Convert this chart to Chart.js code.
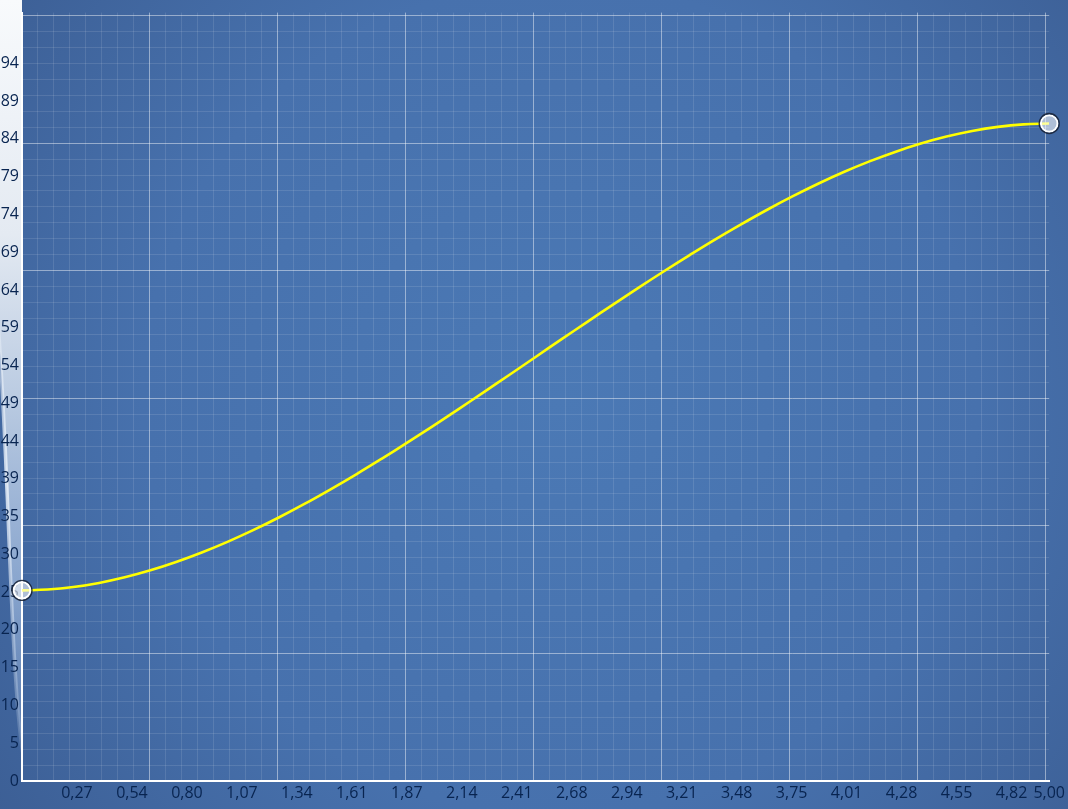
<!DOCTYPE html>
<html>
<head>
<meta charset="utf-8">
<script src="https://cdn.jsdelivr.net/npm/chart.js@4/dist/chart.umd.min.js"></script>
<style>
  html, body { margin: 0; padding: 0; background: #3f659f; }
  #wrap { width: 1068px; height: 809px; }
</style>
</head>
<body>
<div id="wrap"><canvas id="c" width="1068" height="809"></canvas></div>
<script>
// ---- data ----
const xValues = [0, 0.125, 0.25, 0.375, 0.5, 0.625, 0.75, 0.875, 1.0, 1.125, 1.25, 1.375,
                 1.5, 1.625, 1.75, 1.875, 2.0, 2.125, 2.25, 2.375, 2.5, 2.625, 2.75, 2.875,
                 3.0, 3.125, 3.25, 3.375, 3.5, 3.625, 3.75, 3.875, 4.0, 4.125, 4.25, 4.375,
                 4.5, 4.625, 4.75, 4.875, 5.0];
const yValues = [24.90, 25.01, 25.34, 25.88, 26.61, 27.52, 28.61, 29.85, 31.24, 32.77, 34.43, 36.20,
                 38.08, 40.04, 42.09, 44.20, 46.37, 48.59, 50.84, 53.11, 55.40, 57.69, 59.96, 62.21,
                 64.43, 66.60, 68.71, 70.76, 72.72, 74.60, 76.37, 78.03, 79.56, 80.95, 82.19, 83.28,
                 84.19, 84.92, 85.46, 85.79, 85.90];

const xTickValues = [0.2676, 0.5352, 0.8028, 1.0704, 1.338, 1.6056, 1.8732, 2.1408,
                     2.4084, 2.676, 2.9436, 3.2112, 3.4788, 3.7464, 4.014, 4.2816,
                     4.5492, 4.8168, 5.0];
const xTickLabels = ['0,27', '0,54', '0,80', '1,07', '1,34', '1,61', '1,87', '2,14',
                     '2,41', '2,68', '2,94', '3,21', '3,48', '3,75', '4,01', '4,28',
                     '4,55', '4,82', '5,00'];
const yTickValues = [0, 4.935, 9.87, 14.805, 19.74, 24.675, 29.61, 34.545, 39.48, 44.415,
                     49.35, 54.285, 59.22, 64.155, 69.09, 74.025, 78.96, 83.895, 88.83, 93.765];
const yTickLabels = ['0', '5', '10', '15', '20', '25', '30', '35', '39', '44',
                     '49', '54', '59', '64', '69', '74', '79', '84', '89', '94'];

// decorative grid lattice (minor cells, major every 8)
const gridXCount = 64, gridXMax = 64.25;
const gridYCount = 48, gridYMax = 48.1875;

const linePoints = xValues.map((x, i) => ({ x: x, y: yValues[i] }));
const endPoints = [linePoints[0], linePoints[linePoints.length - 1]];

const bgPlugin = {
  id: 'bg',
  beforeDraw(chart) {
    const ctx = chart.ctx, W = chart.width, H = chart.height;
    ctx.save();
    const g = ctx.createRadialGradient(560, 400, 0, 560, 400, 760);
    g.addColorStop(0, '#4b79b5');
    g.addColorStop(0.55, '#4771ad');
    g.addColorStop(1, '#3a5b90');
    ctx.fillStyle = g;
    ctx.fillRect(0, 0, W, H);
    // glossy glow on the left strip
    const left = chart.chartArea.left;
    ctx.beginPath();
    ctx.rect(0, 0, left, H);
    ctx.clip();
    const lg = ctx.createLinearGradient(0, 0, 0, 780);
    lg.addColorStop(0, 'rgba(248,250,252,1)');
    lg.addColorStop(0.3, 'rgba(228,234,242,1)');
    lg.addColorStop(0.5, 'rgba(195,210,230,0.95)');
    lg.addColorStop(0.75, 'rgba(155,181,217,0.8)');
    lg.addColorStop(1, 'rgba(120,152,200,0.3)');
    ctx.beginPath();
    ctx.moveTo(-2, 0);
    ctx.lineTo(left + 2, 0);
    ctx.lineTo(left + 2, 760);
    ctx.bezierCurveTo(17, 725, 13, 640, 9, 540);
    ctx.bezierCurveTo(6, 460, 2, 380, -2, 320);
    ctx.closePath();
    ctx.fillStyle = lg;
    ctx.fill();
    // bright streak along the edge of the glow
    ctx.beginPath();
    ctx.moveTo(left + 2, 760);
    ctx.bezierCurveTo(17, 725, 13, 640, 9, 540);
    ctx.bezierCurveTo(6, 460, 2, 380, -2, 320);
    const sg = ctx.createLinearGradient(0, 300, 0, 760);
    sg.addColorStop(0, 'rgba(240,245,252,0.3)');
    sg.addColorStop(0.4, 'rgba(235,242,250,0.85)');
    sg.addColorStop(1, 'rgba(200,215,235,0.15)');
    ctx.strokeStyle = sg;
    ctx.lineWidth = 3.5;
    ctx.stroke();
    ctx.restore();
  }
};

const labelFont = { family: 'Open Sans', size: 16 };
const labelColor = '#082450';
const majorColor = 'rgba(255,255,255,0.45)';
const minorColor = 'rgba(255,255,255,0.11)';

new Chart(document.getElementById('c'), {
  type: 'line',
  data: {
    datasets: [
      {
        label: 'markerRing',
        data: endPoints,
        showLine: false,
        pointRadius: 10,
        pointBackgroundColor: 'rgba(0,0,0,0)',
        pointBorderColor: 'rgba(25,35,55,0.9)',
        pointBorderWidth: 1.3,
        clip: false,
        order: 0
      },
      {
        label: 'markers',
        data: endPoints,
        showLine: false,
        pointRadius: 8.3,
        pointBackgroundColor: 'rgba(255,255,255,0.58)',
        pointBorderColor: '#ffffff',
        pointBorderWidth: 2,
        clip: false,
        order: 1
      },
      {
        label: 'series',
        data: linePoints,
        borderColor: '#ffff00',
        borderWidth: 2.6,
        pointRadius: 0,
        fill: false,
        tension: 0.4,
        order: 2
      }
    ]
  },
  plugins: [bgPlugin],
  options: {
    responsive: false,
    animation: false,
    events: [],
    layout: { padding: { top: 10, right: 18, left: 0, bottom: 0 } },
    plugins: { legend: { display: false }, tooltip: { enabled: false } },
    scales: {
      x: {
        type: 'linear', position: 'bottom', min: 0, max: 5,
        grid: { display: false, drawTicks: false },
        border: { display: true, color: '#ffffff', width: 2 },
        afterBuildTicks: (s) => { s.ticks = xTickValues.map(v => ({ value: v })); },
        afterFit: (s) => { s.height = 28; },
        ticks: {
          autoSkip: false, maxRotation: 0, padding: 3,
          color: labelColor, font: labelFont,
          callback: (v, i) => xTickLabels[i]
        }
      },
      y: {
        type: 'linear', position: 'left', min: 0, max: 100.39,
        grid: { display: false, drawTicks: false },
        border: { display: true, color: '#ffffff', width: 2 },
        afterBuildTicks: (s) => { s.ticks = yTickValues.map(v => ({ value: v })); },
        afterFit: (s) => { s.width = 22; },
        ticks: {
          autoSkip: false, padding: 3,
          color: labelColor, font: labelFont,
          callback: (v, i) => yTickLabels[i]
        }
      },
      xGrid: {
        type: 'linear', position: 'bottom', min: 0, max: gridXMax,
        afterBuildTicks: (s) => {
          const t = []; for (let k = 0; k <= gridXCount; k++) t.push({ value: k }); s.ticks = t;
        },
        afterFit: (s) => { s.height = 0; },
        grid: {
          drawTicks: false, lineWidth: 1,
          color: (c) => (c.tick && c.tick.value % 8 === 0) ? majorColor : minorColor
        },
        border: { display: false },
        ticks: { display: false }
      },
      yGrid: {
        type: 'linear', position: 'left', min: 0, max: gridYMax,
        afterBuildTicks: (s) => {
          const t = []; for (let k = 0; k <= gridYCount; k++) t.push({ value: k }); s.ticks = t;
        },
        afterFit: (s) => { s.width = 0; },
        grid: {
          drawTicks: false, lineWidth: 1,
          color: (c) => (c.tick && c.tick.value % 8 === 0) ? majorColor : minorColor
        },
        border: { display: false },
        ticks: { display: false }
      }
    }
  }
});
</script>
</body>
</html>
